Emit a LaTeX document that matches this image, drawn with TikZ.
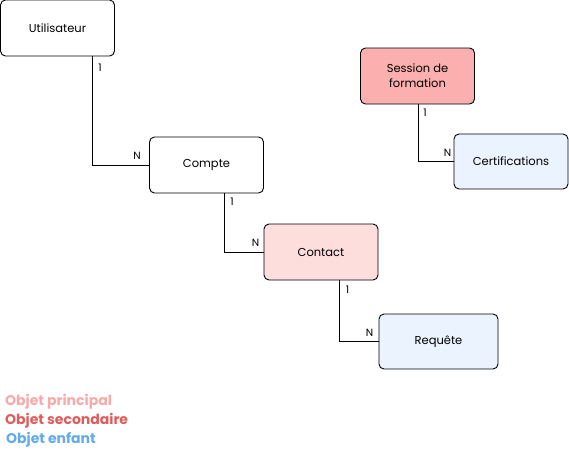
\documentclass[tikz,border=0pt]{standalone}
\usepackage{fontspec}
\setmainfont{Poppins}
\usepackage{tikz}
\usetikzlibrary{positioning}
\definecolor{principal}{HTML}{FBB0AF}
\definecolor{secondaire}{HTML}{FDDEDD}
\definecolor{enfant}{HTML}{EBF4FE}
\definecolor{legprincipal}{HTML}{F8A9A9}
\definecolor{legsecondaire}{HTML}{E05C5C}
\definecolor{legenfant}{HTML}{62AAEA}
\tikzset{entity/.style={draw, line width=0.9pt, rounded corners=5pt,
         minimum width=114pt, minimum height=56pt, align=center,
         font=\fontsize{11.5}{15}\selectfont, inner sep=2pt},
         link/.style={line width=0.9pt},
         card/.style={font=\fontsize{10.5}{12}\selectfont, inner sep=0pt},
         legend/.style={anchor=west, font=\fontsize{14}{15}\selectfont\bfseries, inner sep=0pt}}

\begin{document}
\begin{tikzpicture}[x=1pt,y=-1pt]
    \useasboundingbox (0,0) rectangle (569,451);

    % objets
    \node[entity] (util) at (57.5,28) {Utilisateur};
    \node[entity] (compte) at (206.5,165) {Compte};
    \node[entity, fill=secondaire] (contact) at (321,252) {Contact};
    \node[entity, fill=enfant, minimum width=119pt, minimum height=55pt] (requete) at (438.5,341.5) {Requête};
    \node[entity, fill=principal] (session) at (417.5,76) {Session de\\formation};
    \node[entity, fill=enfant, minimum height=55pt] (cert) at (511,161.5) {Certifications};

    % liens
    \draw[link] ([xshift=92pt]util.south west) |- (compte.west);
    \draw[link] ([xshift=75pt]compte.south west) |- (contact.west);
    \draw[link] ([xshift=76pt]contact.south west) |- (requete.west);
    \draw[link] ([xshift=58pt]session.south west) |- (cert.west);

    % cardinalites
    \node[card, anchor=north west] (u1) at ([xshift=98pt,yshift=-7pt]util.south west) {1};
    \node[card, anchor=south east] (cn) at ([xshift=-8pt,yshift=5pt]compte.west) {N};
    \node[card, anchor=north west] (c1) at ([xshift=81pt,yshift=-4pt]compte.south west) {1};
    \node[card, anchor=south east] (kn) at ([xshift=-4pt,yshift=5pt]contact.west) {N};
    \node[card, anchor=north west] (k1) at ([xshift=82pt,yshift=-5pt]contact.south west) {1};
    \node[card, anchor=south east] (rn) at ([xshift=-5pt,yshift=5pt]requete.west) {N};
    \node[card, anchor=north west] (s1) at ([xshift=63pt,yshift=-4pt]session.south west) {1};
    \node[card, anchor=south east] (tn) at ([xshift=-2pt,yshift=5pt]cert.west) {N};

    % legende
    \node[legend, text=legprincipal] (lp) at (5,402) {Objet principal};
    \node[legend, text=legsecondaire] (ls) at (5,421) {Objet secondaire};
    \node[legend, text=legenfant] (le) at (6,440) {Objet enfant};
\end{tikzpicture}
\end{document}
